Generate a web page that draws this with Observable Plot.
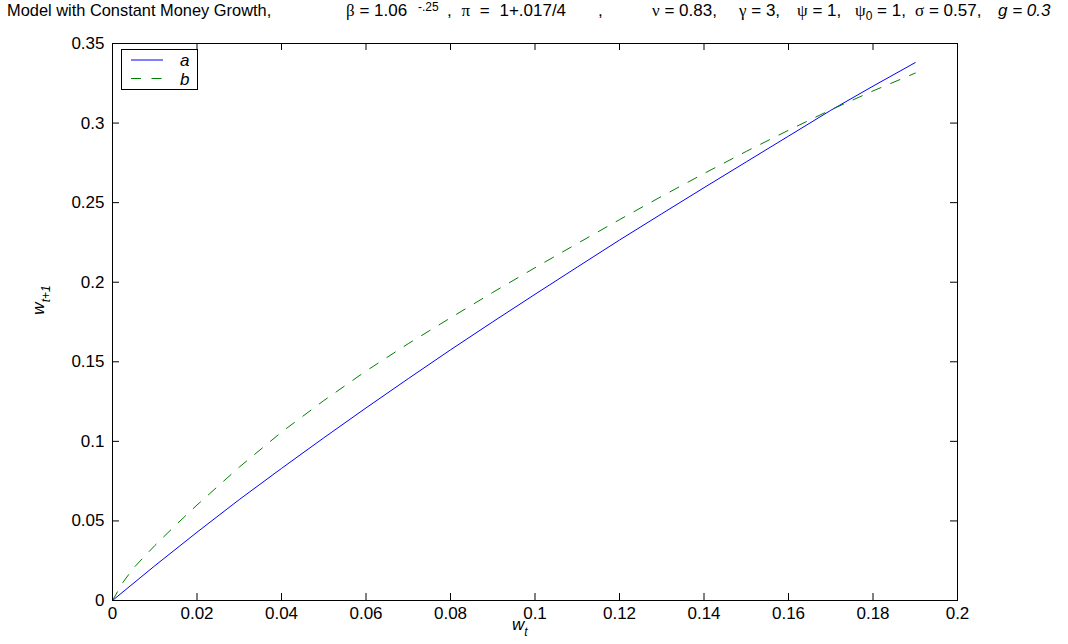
<!DOCTYPE html>
<html><head><meta charset="utf-8">
<script src="https://cdn.jsdelivr.net/npm/d3@7"></script>
<script src="https://cdn.jsdelivr.net/npm/@observablehq/plot@0.6"></script>
<style>
body{margin:0;background:#fff;}
#wrap{position:relative;width:1068px;height:644px;font-family:"Liberation Sans",Arial,sans-serif;color:#000;overflow:hidden;}
.t{position:absolute;font-size:17px;white-space:pre;line-height:1;}
.g{font-family:"Liberation Serif","DejaVu Serif",serif;}
.i{font-style:italic;}
sub,sup{font-size:12px;line-height:0;}
.lo{position:relative;top:2px;}
#legend{position:absolute;left:121px;top:49px;width:77px;height:41px;border:1px solid #000;box-sizing:border-box;background:#fff;}
</style></head><body><div id="wrap"></div>
<script>
// Series
const seriesNames = ["a", "b"];
const seriesColors = ["#0000ff", "#008000"];
const seriesDash = [null, "10,10.5"];

// series a (blue solid)
const wA = [0, 0.01, 0.02, 0.03, 0.04, 0.05, 0.06, 0.07, 0.08, 0.09, 0.10, 0.11, 0.12, 0.13, 0.14, 0.15, 0.16, 0.17, 0.18, 0.19];
const aVals = [0, 0.0218, 0.0429, 0.0634, 0.0830, 0.1022, 0.1210, 0.1394, 0.1575, 0.1751, 0.1924, 0.2095, 0.2265, 0.2430, 0.2594, 0.2756, 0.2918, 0.3080, 0.3232, 0.3380];

// series b (green dashed)
const wB = [0, 0.0025, 0.005, 0.01, 0.015, 0.02, 0.03, 0.04, 0.05, 0.06, 0.07, 0.08, 0.09, 0.10, 0.11, 0.12, 0.13, 0.14, 0.15, 0.16, 0.17, 0.18, 0.19];
const bVals = [0, 0.0115, 0.0205, 0.0345, 0.0475, 0.0600, 0.0838, 0.1058, 0.1256, 0.1442, 0.1614, 0.1776, 0.1936, 0.2091, 0.2243, 0.2393, 0.2540, 0.2683, 0.2822, 0.2955, 0.3083, 0.3202, 0.3314];

// Axes
const xTicks = [0, 0.02, 0.04, 0.06, 0.08, 0.1, 0.12, 0.14, 0.16, 0.18, 0.2];
const yTicks = [0, 0.05, 0.1, 0.15, 0.2, 0.25, 0.3, 0.35];
const xDomain = [0, 0.2];
const yDomain = [0, 0.35];

const W = 1068, H = 644;
const mL = 112, mR = 111, mT = 43, mB = 44;
const pw = W - mL - mR, ph = H - mT - mB;
const tick = 7;

const rowsA = wA.map((w, i) => ({w, v: aVals[i]}));
const rowsB = wB.map((w, i) => ({w, v: bVals[i]}));
const fmt = d => String(d);

const chart = Plot.plot({
  width: W, height: H,
  marginLeft: mL, marginRight: mR, marginTop: mT, marginBottom: mB,
  style: {fontFamily: "'Liberation Sans', Arial, sans-serif", fontSize: "17px", background: "#fff", color: "#000"},
  x: {domain: xDomain},
  y: {domain: yDomain},
  marks: [
    Plot.line(rowsA, {x: "w", y: "v", stroke: seriesColors[0], strokeWidth: 1}),
    Plot.line(rowsB, {x: "w", y: "v", stroke: seriesColors[1], strokeWidth: 1, strokeDasharray: seriesDash[1]}),
    Plot.tickX(xTicks, {x: d => d, insetTop: ph - tick, stroke: "#000"}),
    Plot.tickX(xTicks, {x: d => d, insetBottom: ph - tick, stroke: "#000"}),
    Plot.tickY(yTicks, {y: d => d, insetRight: pw - tick, stroke: "#000"}),
    Plot.tickY(yTicks, {y: d => d, insetLeft: pw - tick, stroke: "#000"}),
    Plot.frame({stroke: "#000", strokeWidth: 1}),
    Plot.axisX({ticks: xTicks, tickSize: 0, tickPadding: 6, tickFormat: fmt, label: null, fontSize: 17}),
    Plot.axisY({ticks: yTicks, tickSize: 0, tickPadding: 8, tickFormat: fmt, label: null, fontSize: 17})
  ]
});
const wrap = document.getElementById("wrap");
chart.style.position = "absolute";
chart.style.left = "0"; chart.style.top = "0";
wrap.appendChild(chart);

function addText(html, left, top, cls = "") {
  const d = document.createElement("div");
  d.className = "t " + cls;
  d.style.left = left + "px"; d.style.top = top + "px";
  d.innerHTML = html;
  wrap.appendChild(d);
  return d;
}
// Title
const tt = 2;
addText("Model with Constant Money Growth,", 7, tt).style.fontSize = "16.4px";
addText('<span class="g">β</span> = 1.06', 346, tt);
addText('-.25', 418, tt - 1).style.fontSize = "12px";
const pi = addText(', <span class="g">π</span> = 1+.017/4', 447, tt);
pi.style.wordSpacing = "5px";
addText(',', 598, tt);
addText('<span class="g">ν</span> = 0.83,', 652, tt);
addText('<span class="g">γ</span> = 3,', 739, tt);
addText('<span class="g">ψ</span> = 1,', 797, tt);
addText('<span class="g">ψ</span><sub>0</sub> = 1,', 855, tt);
addText('<span class="g">σ</span> = 0.57,', 915, tt);
addText('<span class="i">g = 0.3</span>', 998, tt);

// Axis labels
addText('<span class="i">w<sub class="lo">t</sub></span>', 512, 616);
const yl = addText('<span class="i">w<sub class="lo">t+1</sub></span>', 38, 300);
yl.style.transform = "translate(-50%,-50%) rotate(-90deg)";

// Legend
const lg = document.createElement("div");
lg.id = "legend";
const ls = d3.select(lg).append("svg").attr("width", 75).attr("height", 39);
seriesNames.forEach((n, i) => {
  const y = 10 + i * 18.5;
  const ln = ls.append("line").attr("x1", 9).attr("x2", 41).attr("y1", y).attr("y2", y)
    .attr("stroke", seriesColors[i]).attr("stroke-width", 1);
  if (seriesDash[i]) ln.attr("stroke-dasharray", seriesDash[i]);
  ls.append("text").attr("x", 58).attr("y", y + 6).attr("font-style", "italic")
    .attr("font-size", 17).attr("font-family", "'Liberation Sans', Arial, sans-serif").text(n);
});
wrap.appendChild(lg);
</script>
</body></html>
